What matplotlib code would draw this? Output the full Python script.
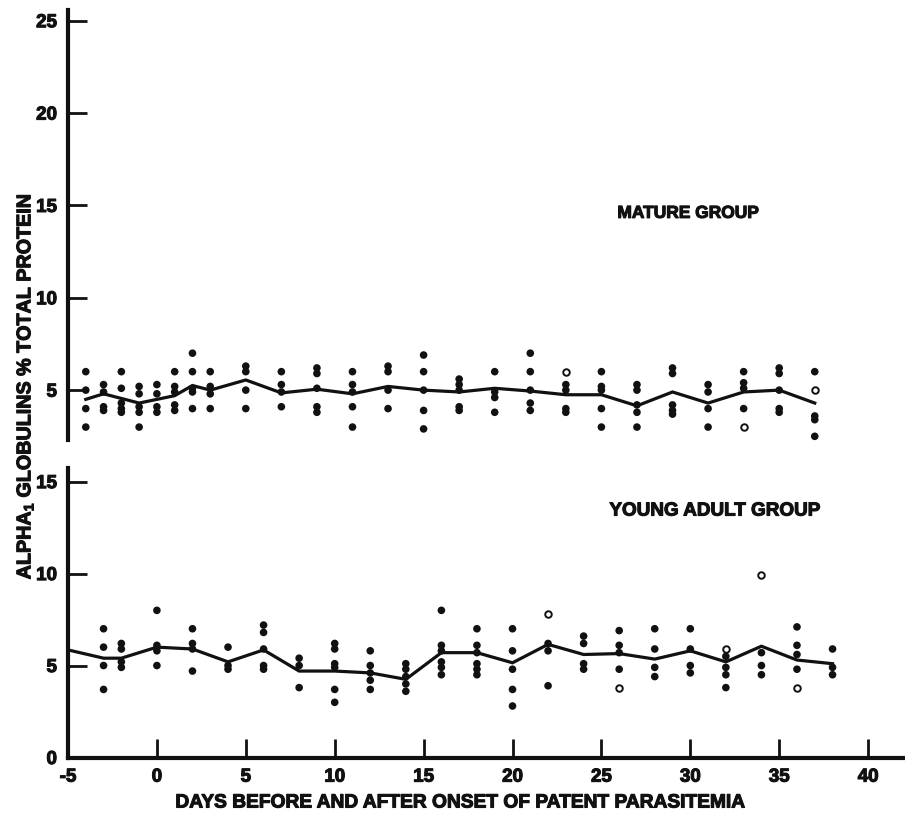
import matplotlib
matplotlib.use("Agg")
import matplotlib.pyplot as plt
import matplotlib.patheffects as pe
import numpy as np

plt.rcParams['font.family'] = ['Liberation Sans', 'DejaVu Sans']
plt.rcParams['font.weight'] = 'bold'
plt.rcParams['mathtext.fontset'] = 'custom'
plt.rcParams['mathtext.rm'] = 'Liberation Sans:bold'
plt.rcParams['mathtext.it'] = 'Liberation Sans:bold'
plt.rcParams['mathtext.bf'] = 'Liberation Sans:bold'
plt.rcParams['axes.unicode_minus'] = False

# ---------------- Mature group ----------------
mature_days = [-4, -3, -2, -1, 0, 1, 2, 3, 5, 7, 9, 11, 13, 15, 17, 19, 21, 23,
               25, 27, 29, 31, 33, 35, 37]
mature_mean = [4.5, 4.8, 4.55, 4.3, 4.5, 4.7, 5.25, 5.0, 5.55, 4.85, 5.05, 4.8,
               5.2, 5.0, 4.9, 5.1, 4.95, 4.75, 4.75, 4.15, 4.9, 4.3, 4.9, 5.0, 4.3]
mature_values = [
    [6, 5, 4, 3],
    [5.3, 4.9, 4.1, 3.9],
    [6, 5.1, 4.3, 4.0, 3.8],
    [5.2, 4.8, 4.1, 3.8, 3.0],
    [5.3, 4.8, 4.1, 3.8],
    [6, 5.2, 4.9, 4.2, 3.9],
    [7, 6, 5.1, 4.9, 4.0],
    [6, 5.2, 4.8, 4.0],
    [6.3, 6.0, 5.0, 4.0],
    [6, 5.3, 4.9, 4.1],
    [6.2, 5.9, 5.1, 4.1, 3.8],
    [6, 5.3, 4.9, 4.1, 3.0],
    [6.3, 6.0, 5.0, 4.0],
    [6.9, 6, 5, 3.9, 2.9],
    [5.6, 5.3, 5.0, 4.1, 3.9],
    [6, 4.9, 4.6, 3.8],
    [7, 6, 5, 4.3, 3.9],
    [5.3, 5.0, 4.0, 3.8],
    [6, 5.2, 5.0, 4.0, 3.0],
    [5.3, 5.0, 4.2, 3.8, 3.0],
    [6.2, 5.9, 4.2, 3.9, 3.7],
    [5.3, 4.9, 4.0, 3.0],
    [6, 5.4, 5.1, 4.0],
    [6.2, 5.9, 5.0, 4.0, 3.8],
    [6, 3.6, 3.4, 2.5],
]
mature_open_days = [23, 33, 37]
mature_open_values = [6.0, 3.0, 5.0]

# ---------------- Young adult group ----------------
young_days = [-5, -3, -2, 0, 2, 4, 6, 8, 10, 12, 14, 16, 18, 20, 22, 24, 26,
              28, 30, 32, 34, 36, 38]
young_mean = [5.85, 5.4, 5.4, 6.0, 5.9, 5.2, 5.85, 4.7, 4.7, 4.6, 4.25, 5.7,
              5.7, 5.15, 6.15, 5.6, 5.65, 5.35, 5.8, 5.2, 6.05, 5.3, 5.1]
young_point_days = young_days[1:]
young_values = [
    [7, 6, 5, 3.7],
    [6.2, 5.9, 5.2, 4.9],
    [8, 6.1, 5.8, 5.0],
    [7, 6.2, 5.9, 4.7],
    [6, 5, 4.8],
    [7.2, 6.8, 5.9, 5.0, 4.8],
    [5.4, 5.0, 3.8],
    [6.2, 5.9, 5.1, 4.9, 3.7, 3.0],
    [5.8, 5.0, 4.6, 4.2, 3.7],
    [5.1, 4.8, 4.4, 4.0, 3.6],
    [8, 6.1, 5.8, 5.2, 4.9, 4.5],
    [7, 6.1, 5.7, 5.1, 4.8, 4.5],
    [7, 5.8, 4.8, 3.7, 2.8],
    [6.2, 5.8, 3.9],
    [6.6, 6.2, 5.1, 4.8],
    [6.9, 6.1, 5.7, 4.8],
    [7, 5.9, 4.9, 4.4],
    [7, 5.9, 5.0, 4.6],
    [5.5, 4.9, 4.5, 3.8],
    [5.7, 5.0, 4.5],
    [7.1, 6.1, 5.6, 4.8],
    [5.9, 4.9, 4.5],
]
young_open_days = [22, 26, 32, 34, 36]
young_open_values = [7.8, 3.8, 5.9, 9.9, 3.8]

x_ticks = [-5, 0, 5, 10, 15, 20, 25, 30, 35, 40]
top_y_ticks = [5, 10, 15, 20, 25]
bottom_y_ticks = [0, 5, 10, 15]

W, H = 905, 816
fig = plt.figure(figsize=(W / 100, H / 100), dpi=100)
left = 68 / W
ax_top = fig.add_axes([left, 1 - 440 / H, 1 - left, 430 / H])
ax_bot = fig.add_axes([left, 58.5 / H, 1 - left, (757.5 - 468) / H])

ink = '#111111'
heavy = [pe.withStroke(linewidth=0.8, foreground=ink)]


def flatten(days, values):
    xs, ys = [], []
    for d, vals in zip(days, values):
        xs.extend([d] * len(vals))
        ys.extend(vals)
    return np.array(xs), np.array(ys)


def draw_group(ax, mdays, mean, pdays, values, odays, ovals):
    ax.plot(mdays, mean, color=ink, lw=2.3, solid_joinstyle='miter', zorder=3)
    xs, ys = flatten(pdays, values)
    ax.scatter(xs, ys, s=30, color=ink, edgecolors='none', zorder=4,
               clip_on=False)
    ax.scatter(odays, ovals, s=22, facecolors='white', edgecolors=ink,
               linewidths=1.4, zorder=4, clip_on=False)


draw_group(ax_top, mature_days, mature_mean, mature_days, mature_values,
           mature_open_days, mature_open_values)
draw_group(ax_bot, young_days, young_mean, young_point_days, young_values,
           young_open_days, young_open_values)

xmax = -5 + (W - 68) / 17.78
for ax in (ax_top, ax_bot):
    ax.set_xlim(-5, xmax)
    ax.spines['top'].set_visible(False)
    ax.spines['right'].set_visible(False)
    ax.spines['left'].set_linewidth(3)
    ax.spines['left'].set_color(ink)
    ax.tick_params(axis='y', direction='in', length=14, width=2, pad=8,
                   labelsize=13.5, colors=ink)
    ax.set_facecolor('none')

ax_top.set_ylim(2.3, 25.58)
ax_top.set_yticks(top_y_ticks)
ax_top.spines['bottom'].set_visible(False)
ax_top.set_xticks([])

ax_bot.set_ylim(0, 15.74)
ax_bot.set_yticks(bottom_y_ticks)
ax_bot.spines['bottom'].set_linewidth(3)
ax_bot.spines['bottom'].set_color(ink)
ax_bot.set_xticks(x_ticks)
ax_bot.set_xticklabels([str(t) for t in x_ticks])
ax_bot.tick_params(axis='x', direction='in', length=14, width=2, pad=8,
                   labelsize=13.5, colors=ink)

for lab in ax_top.get_yticklabels() + ax_bot.get_yticklabels() + ax_bot.get_xticklabels():
    lab.set_fontweight('bold')
    lab.set_path_effects(heavy)

ax_top.text(25.9, 14.57, 'MATURE GROUP', ha='left', va='center',
            fontsize=12.5, fontweight='bold', color=ink, path_effects=heavy)
ax_bot.text(25.45, 13.4, 'YOUNG ADULT GROUP', ha='left', va='center',
            fontsize=13.6, fontweight='bold', color=ink, path_effects=heavy)

fig.text(459 / W, 1 - 803 / H,
         'DAYS BEFORE AND AFTER ONSET OF PATENT PARASITEMIA',
         ha='center', va='center', fontsize=13.8, fontweight='bold', color=ink,
         path_effects=heavy)
fig.text(25 / W, 1 - 386 / H,
         r'ALPHA$_{1}$ GLOBULINS % TOTAL PROTEIN',
         ha='center', va='center', rotation=90, fontsize=14.2,
         fontweight='bold', color=ink, path_effects=heavy)

fig.savefig('out.png', dpi=100, facecolor='white')
